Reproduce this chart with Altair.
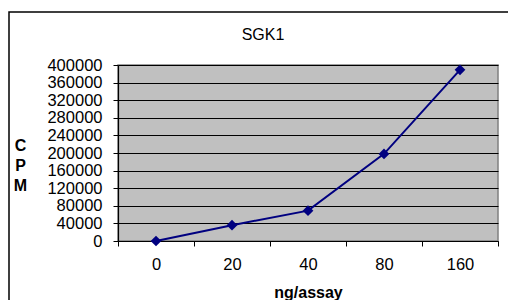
import altair as alt
import pandas as pd

categories = ["0", "20", "40", "80", "160"]
cpm = [0, 36000, 69000, 198000, 389000]
y_ticks = [0, 40000, 80000, 120000, 160000, 200000, 240000, 280000, 320000, 360000, 400000]

df = pd.DataFrame({"ng": categories, "cpm": cpm})
FONT = "Liberation Sans"

x_enc = alt.X(
    "ng:O",
    sort=categories,
    scale=alt.Scale(paddingInner=0, paddingOuter=0),
    axis=alt.Axis(
        title="ng/assay",
        titleFont=FONT, titleFontSize=16, titleFontWeight="bold", titleColor="black",
        titleBaseline="alphabetic", titleY=56,
        labelFont=FONT, labelFontSize=16.5, labelColor="black", labelAngle=0,
        labelPadding=10,
        tickBand="extent", tickSize=5, tickColor="black",
        domainColor="black", domainWidth=1.2, grid=False,
    ),
)

y_enc = alt.Y(
    "cpm:Q",
    scale=alt.Scale(domain=[0, 400000], nice=False),
    axis=alt.Axis(
        title=["C", "P", "M"],
        titleAngle=0, titleFont=FONT, titleFontSize=16, titleFontWeight="bold",
        titleColor="black", titleLineHeight=20, titleAlign="center",
        titleBaseline="middle", titleX=-98, titleY=80,
        values=y_ticks, format="d",
        labelFont=FONT, labelFontSize=16.5, labelColor="black", labelPadding=11,
        tickSize=5, tickColor="black",
        domainColor="black", domainWidth=1.2,
        grid=True, gridColor="black", gridWidth=1,
    ),
)

line = alt.Chart(df).mark_line(color="#000080", strokeWidth=2).encode(x=x_enc, y=y_enc)
pts = alt.Chart(df).mark_point(shape="diamond", filled=True, size=115, color="#000080", opacity=1).encode(x=x_enc, y=y_enc)

border = alt.Chart(pd.DataFrame({"a": [0]})).mark_rect(
    fill="transparent", stroke="black", strokeWidth=1.5
).encode(
    x=alt.value(-109), x2=alt.value(520), y=alt.value(-53), y2=alt.value(320)
)

chart = alt.layer(border, line, pts).properties(
    width=380,
    height=176,
    background="white",
    title=alt.TitleParams(
        "SGK1", font=FONT, fontSize=16, fontWeight="normal", color="black",
        anchor="middle", frame="group", dx=-45, offset=-45, baseline="alphabetic",
    ),
    autosize=alt.AutoSizeParams(type="none"),
    padding={"left": 110, "top": 57, "right": 10, "bottom": 59},
).configure_view(
    fill="#C0C0C0", stroke="#808080", strokeWidth=1.5
)

chart.save("out.html", embed_options={"renderer": "svg", "actions": False})
